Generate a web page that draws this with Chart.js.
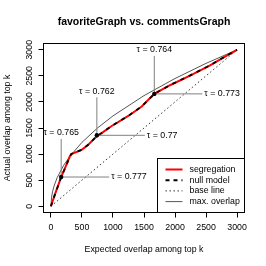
<!DOCTYPE html>
<html>
<head>
<meta charset="utf-8">
<script src="https://cdn.jsdelivr.net/npm/chart.js@4.4.1/dist/chart.umd.min.js"></script>
<style>
  html,body{margin:0;padding:0;background:#fff;}
</style>
</head>
<body>
<canvas id="chart" width="266" height="266"></canvas>
<script>
// values
const segX  = [0, 5, 60, 166, 247, 302, 327, 489, 597, 705, 811, 979, 1247, 1463, 1666, 1919, 2242, 2565, 2806, 3000];
const segY  = [0, 19, 212, 563, 788, 948, 1000, 1077, 1173, 1302, 1398, 1538, 1731, 1913, 2154, 2320, 2505, 2700, 2870, 3000];
const nullX = [0, 8, 62, 168, 250, 305, 330, 492, 600, 708, 815, 982, 1250, 1466, 1670, 1922, 2245, 2568, 2808, 3000];
const nullY = [0, 25, 218, 566, 792, 952, 1003, 1082, 1178, 1306, 1402, 1541, 1735, 1916, 2158, 2324, 2508, 2703, 2872, 3000];
const baseX = [0, 3000];
const baseY = [0, 3000];
const maxX  = [0, 10, 25, 50, 100, 200, 300, 500, 750, 1000, 1500, 2000, 2500, 3000];
const maxY  = [0, 173, 274, 387, 548, 775, 949, 1225, 1500, 1732, 2121, 2449, 2739, 3000];
const markX = [165, 740, 1666];
const markY = [560, 1360, 2154];
const tauUp    = ['0.765', '0.762', '0.764'];
const tauRight = ['0.777', '0.77', '0.773'];
const xTicks = [0, 500, 1000, 1500, 2000, 2500, 3000];
const yTicks = [0, 500, 1000, 1500, 2000, 2500, 3000];
const seriesNames = ['segregation', 'null model', 'base line', 'max. overlap'];

const FONT = '"Liberation Sans", Arial, Helvetica, sans-serif';
const pts = (xs, ys)=>xs.map((x,i)=>({x, y: ys[i]}));

const rPlot = {
  id: 'rPlot',
  afterDraw(chart){
    const {ctx, chartArea:a, scales:{x, y}} = chart;
    ctx.save();
    // leader lines + tau labels
    ctx.strokeStyle = '#808080'; ctx.lineWidth = 1; ctx.setLineDash([]);
    ctx.font = '8.8px ' + FONT; ctx.fillStyle = '#000'; ctx.textBaseline = 'middle';
    markX.forEach((mx, i)=>{
      const px = x.getPixelForValue(mx), py = y.getPixelForValue(markY[i]);
      ctx.beginPath();
      ctx.moveTo(px, py); ctx.lineTo(px, py - 38);
      ctx.moveTo(px, py); ctx.lineTo(px + 48, py);
      ctx.stroke();
      ctx.textAlign = 'center';
      ctx.fillText('\u03c4 = ' + tauUp[i], px, py - 44);
      ctx.textAlign = 'left';
      ctx.fillText('\u03c4 = ' + tauRight[i], px + 50, py);
    });
    // marker dots on top
    ctx.fillStyle = '#000';
    markX.forEach((mx, i)=>{
      const px = x.getPixelForValue(mx), py = y.getPixelForValue(markY[i]);
      ctx.beginPath(); ctx.arc(px, py, 2.2, 0, Math.PI*2); ctx.fill();
    });
    // plot box
    ctx.strokeStyle = '#000'; ctx.lineWidth = 1;
    ctx.strokeRect(a.left, a.top, a.right - a.left, a.bottom - a.top);
    // legend box in the bottom right corner
    const lx = a.right - 87, ly = a.bottom - 54;
    ctx.fillStyle = '#fff';
    ctx.fillRect(lx, ly, a.right - lx, a.bottom - ly);
    ctx.strokeRect(lx, ly, a.right - lx, a.bottom - ly);
    const styles = [
      {c:'#ff0000', w:2, d:[]},
      {c:'#000', w:2, d:[4,4]},
      {c:'#333', w:1, d:[1.5,2.5]},
      {c:'#555', w:1, d:[]}
    ];
    seriesNames.forEach((name, i)=>{
      const ry = ly + 11 + i*10.7;
      const s = styles[i];
      ctx.strokeStyle = s.c; ctx.lineWidth = s.w; ctx.setLineDash(s.d);
      ctx.beginPath(); ctx.moveTo(lx + 8, ry); ctx.lineTo(lx + 25, ry); ctx.stroke();
      ctx.setLineDash([]);
      ctx.fillStyle = '#000'; ctx.textAlign = 'left'; ctx.textBaseline = 'middle';
      ctx.fillText(name, lx + 32, ry);
    });
    ctx.restore();
  }
};

const lineDs = (label, xs, ys, color, width, dash)=>({
  label, data: pts(xs, ys), showLine: true, borderColor: color, borderWidth: width,
  borderDash: dash, pointRadius: 0, tension: 0, fill: false
});

new Chart(document.getElementById('chart'), {
  type: 'scatter',
  data: {
    datasets: [
      lineDs(seriesNames[1], nullX, nullY, '#000', 1.8, [4,5]),
      lineDs(seriesNames[0], segX, segY, '#ff0000', 2, []),
      lineDs(seriesNames[3], maxX, maxY, '#555', 1, []),
      lineDs(seriesNames[2], baseX, baseY, '#333', 1, [1.5,2.5])
    ]
  },
  options: {
    responsive: false,
    animation: false,
    layout: { padding: {left: 0, right: 21.5, top: 0, bottom: 0} },
    plugins: {
      legend: { display: false },
      tooltip: { enabled: false },
      title: {
        display: true, fullSize: false,
        text: 'favoriteGraph vs. commentsGraph',
        color: '#000',
        font: { family: FONT, size: 10.5, weight: 'bold', lineHeight: 1.2 },
        padding: { top: 15.7, bottom: 15.2 }
      }
    },
    scales: {
      x: {
        type: 'linear', min: -120, max: 3120,
        afterBuildTicks: s=>{ s.ticks = xTicks.map(v=>({value: v})); },
        afterFit: s=>{ s.height = 53.5; },
        grid: { drawOnChartArea: false, drawTicks: true, tickLength: 5, color: '#000' },
        border: { display: false },
        ticks: { color: '#000', font: { family: FONT, size: 8.8 }, padding: 4.5, maxRotation: 0, autoSkip: false,
                 callback: v=>String(v) },
        title: { display: true, text: 'Expected overlap among top k', color: '#000',
                 font: { family: FONT, size: 8.8 }, padding: { top: 0, bottom: 10.7 } }
      },
      y: {
        type: 'linear', min: -120, max: 3120,
        afterBuildTicks: s=>{ s.ticks = yTicks.map(v=>({value: v})); },
        afterFit: s=>{ s.width = 43.5; },
        grid: { drawOnChartArea: false, drawTicks: true, tickLength: 5, color: '#000' },
        border: { display: false },
        ticks: { color: '#000', font: { family: FONT, size: 8.8 }, padding: -0.5, minRotation: 90, maxRotation: 90,
                 crossAlign: 'center', autoSkip: false, callback: v=>String(v) },
        title: { display: true, text: 'Actual overlap among top k', color: '#000',
                 font: { family: FONT, size: 8.8 }, padding: { top: 2.2, bottom: 0 } }
      }
    }
  },
  plugins: [rPlot]
});
</script>
</body>
</html>
